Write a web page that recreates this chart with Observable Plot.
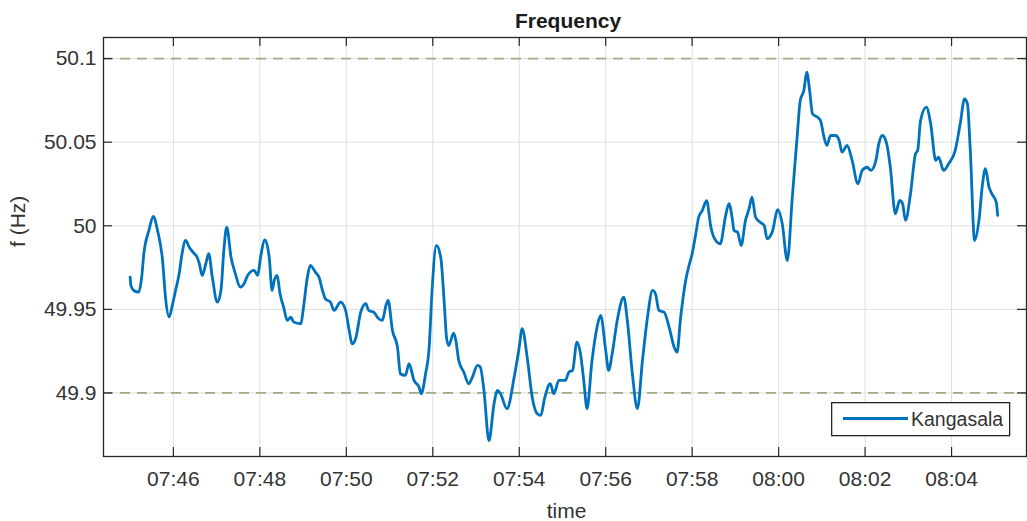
<!DOCTYPE html>
<html>
<head>
<meta charset="utf-8">
<script src="https://cdn.jsdelivr.net/npm/d3@7"></script>
<script src="https://cdn.jsdelivr.net/npm/@observablehq/plot@0.6"></script>
<style>
  html, body { margin: 0; padding: 0; background: #fff; }
  #wrap { position: relative; width: 1027px; height: 521px; overflow: hidden; font-family: "Liberation Sans", Arial, sans-serif; }
  #title { box-sizing: border-box; height: 34px; padding-top: 7px; padding-left: 109px; line-height: 27px; text-align: center; font-weight: bold; font-size: 21px; color: #1a1a1a; white-space: nowrap; }
  #legend { position: absolute; left: 831px; top: 402px; }
</style>
</head>
<body>
<div id="wrap">
  <div id="title">Frequency</div>
  <div id="chart"></div>
  <div id="legend"></div>
</div>
<script>
// ---- data ----
const seriesName = "Kangasala";
const times = ["07:45:00","07:45:01","07:45:05","07:45:12","07:45:16","07:45:19","07:45:26","07:45:32","07:45:38","07:45:45","07:45:49","07:45:54","07:45:59","07:46:03","07:46:08","07:46:12","07:46:17","07:46:22","07:46:29","07:46:33","07:46:36","07:46:40","07:46:45","07:46:49","07:46:54","07:47:01","07:47:06","07:47:10","07:47:14","07:47:20","07:47:26","07:47:33","07:47:38","07:47:43","07:47:52","07:47:57","07:48:01","07:48:07","07:48:13","07:48:17","07:48:20","07:48:24","07:48:28","07:48:33","07:48:38","07:48:43","07:48:47","07:48:57","07:49:00","07:49:06","07:49:10","07:49:17","07:49:22","07:49:27","07:49:31","07:49:38","07:49:43","07:49:52","07:49:59","07:50:04","07:50:08","07:50:13","07:50:20","07:50:27","07:50:31","07:50:38","07:50:45","07:50:50","07:50:55","07:50:58","07:51:04","07:51:11","07:51:15","07:51:22","07:51:27","07:51:34","07:51:41","07:51:44","07:51:50","07:51:55","07:51:59","07:52:05","07:52:11","07:52:16","07:52:19","07:52:22","07:52:29","07:52:32","07:52:36","07:52:43","07:52:50","07:52:55","07:53:02","07:53:06","07:53:11","07:53:18","07:53:25","07:53:30","07:53:34","07:53:43","07:53:53","07:54:00","07:54:04","07:54:11","07:54:18","07:54:25","07:54:30","07:54:35","07:54:43","07:54:48","07:54:55","07:55:04","07:55:09","07:55:14","07:55:20","07:55:25","07:55:30","07:55:34","07:55:41","07:55:48","07:55:53","07:56:00","07:56:04","07:56:09","07:56:16","07:56:25","07:56:30","07:56:37","07:56:44","07:56:51","07:56:58","07:57:05","07:57:09","07:57:14","07:57:21","07:57:28","07:57:35","07:57:39","07:57:44","07:57:51","07:57:55","07:58:00","07:58:05","07:58:09","07:58:14","07:58:20","07:58:26","07:58:30","07:58:39","07:58:46","07:58:51","07:58:56","07:58:58","07:59:03","07:59:08","07:59:14","07:59:19","07:59:23","07:59:28","07:59:34","07:59:40","07:59:44","07:59:51","07:59:59","08:00:05","08:00:12","08:00:19","08:00:26","08:00:30","08:00:35","08:00:39","08:00:43","08:00:47","08:00:54","08:00:58","08:01:03","08:01:07","08:01:12","08:01:19","08:01:24","08:01:28","08:01:35","08:01:42","08:01:50","08:01:56","08:02:03","08:02:08","08:02:15","08:02:19","08:02:24","08:02:30","08:02:35","08:02:42","08:02:48","08:02:52","08:02:56","08:03:03","08:03:10","08:03:13","08:03:17","08:03:25","08:03:31","08:03:38","08:03:42","08:03:49","08:03:56","08:04:05","08:04:12","08:04:18","08:04:22","08:04:26","08:04:32","08:04:38","08:04:43","08:04:47","08:04:52","08:04:56","08:05:02","08:05:04"];
const freq = [49.9693,49.9643,49.9613,49.9603,49.9693,49.9833,49.9972,50.0056,49.9972,49.9792,49.9573,49.9454,49.9534,49.9613,49.9713,49.9833,49.9912,49.9872,49.9833,49.9812,49.9773,49.9703,49.9773,49.9833,49.9693,49.9543,49.9613,49.9852,49.9992,49.9812,49.9713,49.9633,49.9653,49.9703,49.9733,49.9703,49.9812,49.9916,49.9812,49.9613,49.9673,49.9703,49.9593,49.9513,49.9434,49.9453,49.9424,49.9414,49.9493,49.9693,49.9763,49.9723,49.9693,49.9613,49.9563,49.9543,49.9494,49.9543,49.9494,49.9374,49.9294,49.9326,49.9483,49.9534,49.9494,49.9483,49.9444,49.9434,49.9523,49.9553,49.9374,49.9274,49.9115,49.9105,49.9175,49.9075,49.9035,49.8995,49.9115,49.9274,49.9613,49.9882,49.9812,49.9534,49.9334,49.9284,49.9358,49.9314,49.9195,49.9125,49.9055,49.9095,49.9165,49.9154,49.9015,49.8715,49.8936,49.9015,49.8995,49.8906,49.9095,49.9274,49.9384,49.9214,49.8975,49.8876,49.8866,49.8965,49.9055,49.8995,49.9075,49.9075,49.9125,49.9135,49.9304,49.9235,49.9055,49.8906,49.9194,49.9394,49.9464,49.9254,49.9135,49.9235,49.9434,49.9573,49.9434,49.9115,49.8906,49.9194,49.9453,49.9613,49.9593,49.9493,49.9483,49.9394,49.9274,49.9244,49.9453,49.9673,49.9752,49.9833,49.9952,50.0051,50.0091,50.0150,49.9992,49.9932,49.9892,50.0051,50.0132,50.0032,49.9972,49.9962,49.9882,50.0032,50.0102,50.0171,50.0051,50.0022,50.0002,49.9922,49.9962,50.0097,50.0012,49.9792,50.0171,50.0550,50.0749,50.0809,50.0919,50.0809,50.0670,50.0649,50.0630,50.0530,50.0480,50.0540,50.0540,50.0510,50.0440,50.0480,50.0391,50.0251,50.0331,50.0350,50.0331,50.0391,50.0490,50.0540,50.0490,50.0350,50.0072,50.0151,50.0132,50.0032,50.0191,50.0431,50.0450,50.0630,50.0709,50.0610,50.0391,50.0410,50.0331,50.0371,50.0450,50.0610,50.0759,50.0730,50.0450,49.9912,50.0032,50.0251,50.0341,50.0231,50.0191,50.0141,50.0062];
const xTickLabels = ["07:46","07:48","07:50","07:52","07:54","07:56","07:58","08:00","08:02","08:04"];
const yTicks = [49.9, 49.95, 50, 50.05, 50.1];
const limitLines = [49.9, 50.1];
const xLimits = ["07:44:23", "08:05:44"];
const yLimits = [49.862, 50.1126];

// ---- build ----
const day = "2020-01-01T";
const toDate = s => new Date(day + (s.length === 5 ? s + ":00" : s) + "Z");
const n = Math.min(times.length, freq.length);
const data = d3.range(n).map(i => ({t: toDate(times[i]), f: freq[i]}));
const xTicks = xTickLabels.map(toDate);

const W = 1027, H = 487;
const mL = 103, mR = 1, mT = 3, mB = 65;
const fw = W - mL - mR, fh = H - mT - mB;
const tick = 9;
const ink = "#262626";
const font = "\"Liberation Sans\", Arial, sans-serif";

const chart = Plot.plot({
  width: W, height: H,
  marginLeft: mL, marginRight: mR, marginTop: mT, marginBottom: mB,
  style: {fontFamily: font, fontSize: "21px", color: "#333", background: "#fff"},
  x: {type: "utc", domain: xLimits.map(toDate)},
  y: {domain: yLimits},
  marks: [
    Plot.gridX(xTicks, {stroke: "#dedede", strokeOpacity: 1, strokeWidth: 1}),
    Plot.gridY(yTicks, {stroke: "#dedede", strokeOpacity: 1, strokeWidth: 1}),
    Plot.ruleY(limitLines, {stroke: "#9dad84", strokeWidth: 1.8, strokeDasharray: "10,7"}),
    Plot.line(data, {x: "t", y: "f", stroke: "#0072BD", strokeWidth: 2.8, curve: "monotone-x"}),
    Plot.frame({stroke: ink, strokeWidth: 1.3}),
    Plot.tickX(xTicks, {x: d => d, insetTop: fh - tick, stroke: ink, strokeWidth: 1.2}),
    Plot.tickX(xTicks, {x: d => d, insetBottom: fh - tick, stroke: ink, strokeWidth: 1.2}),
    Plot.tickY(yTicks, {y: d => d, insetRight: fw - tick, stroke: ink, strokeWidth: 1.2}),
    Plot.tickY(yTicks, {y: d => d, insetLeft: fw - tick, stroke: ink, strokeWidth: 1.2}),
    Plot.axisX(xTicks, {anchor: "bottom", tickSize: 0, tickPadding: 15, tickFormat: d3.utcFormat("%H:%M"), fontSize: 21, fill: "#333", label: null}),
    Plot.axisY(yTicks, {anchor: "left", tickSize: 0, tickPadding: 7, tickFormat: d => String(d), fontSize: 21, fill: "#333", label: null}),
    Plot.text(["time"], {text: d => d, frameAnchor: "bottom", dy: 61, dx: 1.5, lineAnchor: "bottom", fontSize: 21, fill: "#333"}),
    Plot.text(["f (Hz)"], {text: d => d, frameAnchor: "left", dx: -85, rotate: -90, fontSize: 21, fill: "#333"})
  ]
});
document.getElementById("chart").appendChild(chart);

// legend (box with line sample and series name)
const lg = d3.select("#legend").append("svg").attr("width", 180).attr("height", 35);
lg.append("rect").attr("x", 0.65).attr("y", 0.65).attr("width", 178).attr("height", 33)
  .attr("fill", "#fff").attr("stroke", ink).attr("stroke-width", 1.3);
lg.append("line").attr("x1", 12).attr("x2", 77).attr("y1", 16.5).attr("y2", 16.5)
  .attr("stroke", "#0072BD").attr("stroke-width", 2.8);
lg.append("text").attr("x", 80).attr("y", 23.5).attr("font-family", font)
  .attr("font-size", 19.5).attr("fill", "#333").text(seriesName);
</script>
</body>
</html>
